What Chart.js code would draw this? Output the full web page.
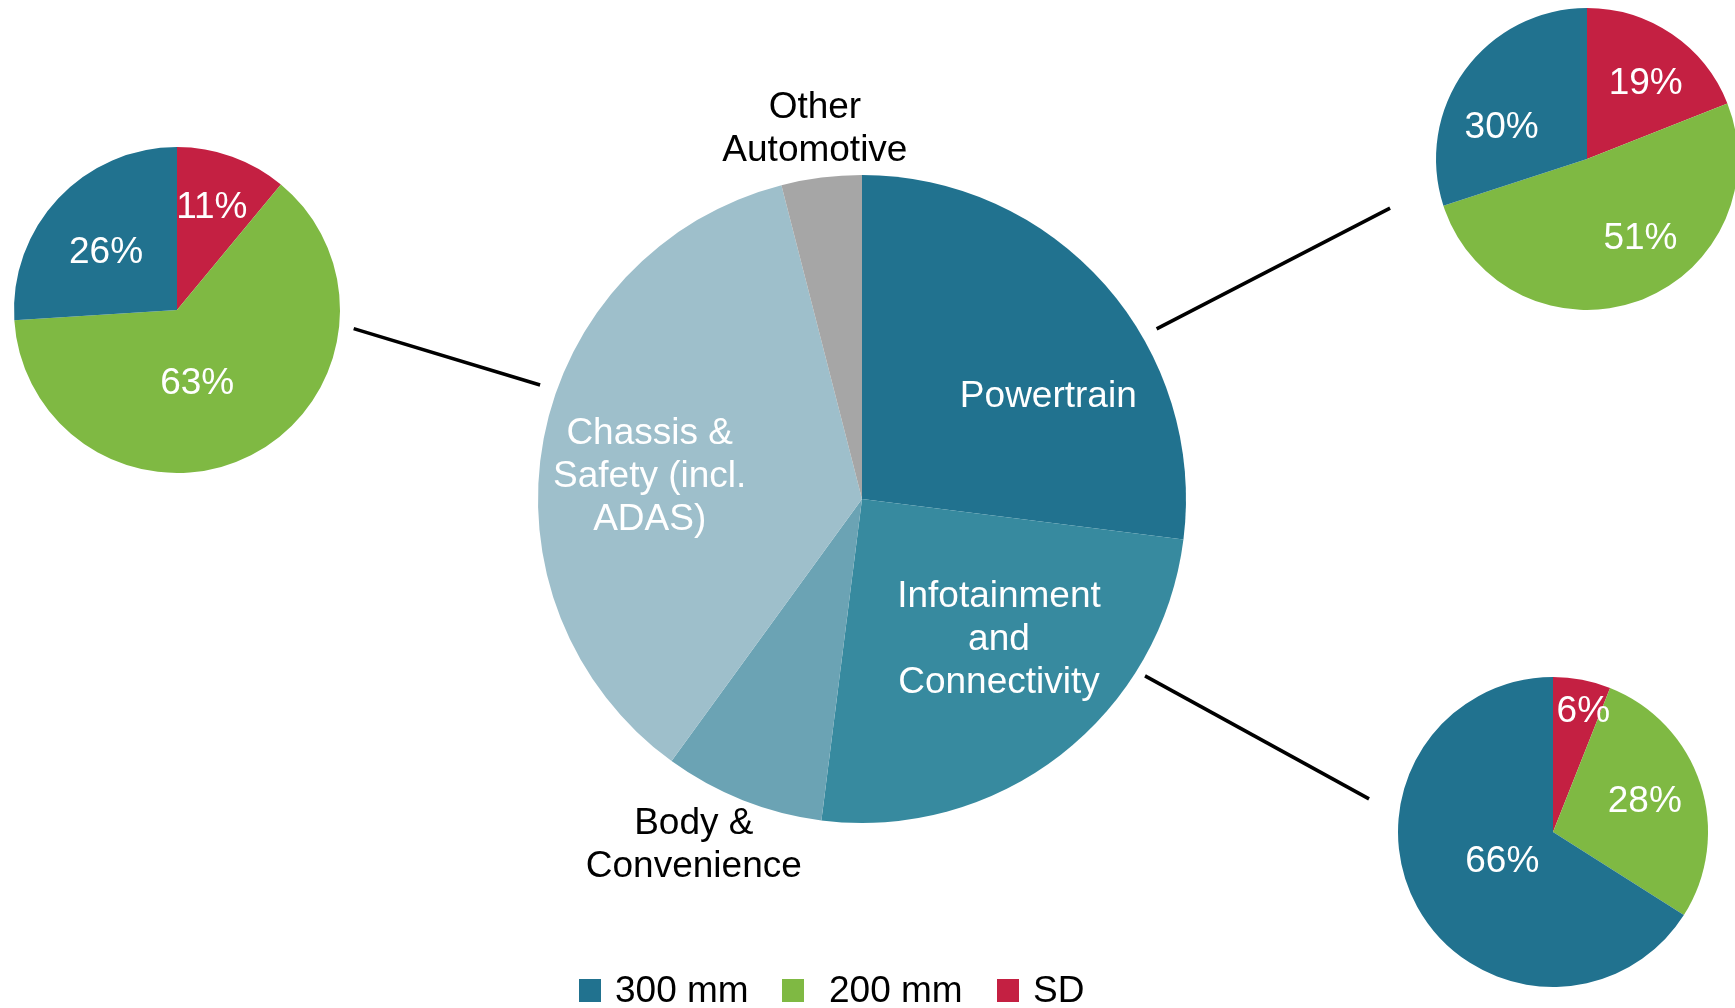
<!DOCTYPE html>
<html>
<head>
<meta charset="utf-8">
<title>Automotive semiconductor demand by wafer size</title>
<script src="https://cdn.jsdelivr.net/npm/chart.js@4.4.1/dist/chart.umd.min.js"></script>
<style>
  html, body { margin: 0; padding: 0; width: 1735px; height: 1008px; overflow: hidden; background: #fff; }
  body { position: relative; font-family: "Liberation Sans", Arial, sans-serif; }
  canvas.layer { position: absolute; left: 0; top: 0; }
  .legend-item { position: absolute; top: 968px; height: 43px; line-height: 43px; font-size: 37px; color: #000; white-space: nowrap; }
  .legend-box { position: absolute; top: 979px; width: 22px; height: 23px; }
</style>
</head>
<body>
<canvas class="layer" id="chassisPie"></canvas>
<canvas class="layer" id="powertrainPie"></canvas>
<canvas class="layer" id="infotainmentPie"></canvas>
<canvas class="layer" id="mainPie"></canvas>
<div id="legend"></div>

<script>
// segment shares of the big pie, clockwise from 12 o'clock
const mainCategories = ["Powertrain", "Infotainment and Connectivity", "Body & Convenience", "Chassis & Safety (incl. ADAS)", "Other Automotive"];
const mainLabelLines = [["Powertrain"], ["Infotainment", "and", "Connectivity"], ["Body &", "Convenience"], ["Chassis &", "Safety (incl.", "ADAS)"], ["Other", "Automotive"]];
const mainShares = [27, 25, 8, 36, 4];

// wafer size split inside each segment, clockwise from 12 o'clock
const waferSizes = ["SD", "200 mm", "300 mm"];
const chassisMix = [11, 63, 26];
const powertrainMix = [19, 51, 30];
const infotainmentMix = [6, 28, 66];
const legendOrder = ["300 mm", "200 mm", "SD"];

const mainColors = ["#21728F", "#378A9F", "#6BA3B4", "#9EBFCB", "#A6A6A6"];
const sizeColors = { "SD": "#C42042", "200 mm": "#7FB943", "300 mm": "#21728F" };

const W = 1760, H = 1008;
const FONT = '37px "Liberation Sans", Arial, sans-serif';
const LINE_H = 43;
const TEXT_DY = 3; // glyphs sit a bit low in the original

// chart area placed so the pie sits at (cx, cy) with radius r
function padFor(cx, cy, r) {
  return { left: cx - r, top: cy - r, right: W - cx - r, bottom: H - cy - r };
}

function polar(arc, deg, f) {
  const a = deg * Math.PI / 180;
  return { x: arc.x + Math.sin(a) * arc.outerRadius * f, y: arc.y - Math.cos(a) * arc.outerRadius * f };
}

const sliceLabels = {
  id: "sliceLabels",
  afterDatasetsDraw(chart, args, opts) {
    const meta = chart.getDatasetMeta(0);
    const ctx = chart.ctx;
    ctx.save();
    ctx.font = FONT;
    ctx.textAlign = "center";
    ctx.textBaseline = "middle";
    meta.data.forEach((arc, i) => {
      const [frac, shift, color] = opts.place[i];
      const mid = (arc.startAngle + arc.endAngle) / 2 + shift * Math.PI / 180;
      const d = arc.outerRadius * frac;
      const x = arc.x + Math.cos(mid) * d;
      const y = arc.y + Math.sin(mid) * d + TEXT_DY;
      const lines = opts.text(chart, i);
      ctx.fillStyle = color;
      lines.forEach((t, k) => {
        ctx.fillText(t, x, y + (k - (lines.length - 1) / 2) * LINE_H);
      });
    });
    ctx.restore();
  }
};

const connectors = {
  id: "connectors",
  afterDraw(chart, args, opts) {
    const main = chart.getDatasetMeta(0).data[0];
    const ctx = chart.ctx;
    ctx.save();
    ctx.strokeStyle = "#000";
    ctx.lineWidth = 3.5;
    opts.links.forEach(l => {
      const other = l.chart.getDatasetMeta(0).data[0];
      const p1 = polar(main, l.from[0], l.from[1]);
      const p2 = polar(other, l.to[0], l.to[1]);
      ctx.beginPath();
      ctx.moveTo(p1.x, p1.y);
      ctx.lineTo(p2.x, p2.y);
      ctx.stroke();
    });
    ctx.restore();
  }
};

function setupCanvas(id) {
  const c = document.getElementById(id);
  c.width = W;
  c.height = H;
  c.style.width = W + "px";
  c.style.height = H + "px";
  return c;
}

function pctText(chart, i) {
  return [chart.data.datasets[0].data[i] + "%"];
}

function mixPie(id, values, pos, place) {
  return new Chart(setupCanvas(id), {
    type: "pie",
    data: {
      labels: waferSizes,
      datasets: [{
        data: values,
        backgroundColor: waferSizes.map(s => sizeColors[s]),
        borderWidth: 0
      }]
    },
    options: {
      responsive: false,
      animation: false,
      events: [],
      layout: { padding: padFor(pos[0], pos[1], pos[2]) },
      plugins: {
        legend: { display: false },
        tooltip: { enabled: false },
        sliceLabels: { place: place, text: pctText }
      }
    },
    plugins: [sliceLabels]
  });
}

const chassisChart = mixPie("chassisPie", chassisMix, [177, 310, 163],
  [[0.68, -1.5, "#fff"], [0.45, 11, "#fff"], [0.57, -3, "#fff"]]);
const powertrainChart = mixPie("powertrainPie", powertrainMix, [1587, 159, 151],
  [[0.65, 2.5, "#fff"], [0.62, -15, "#fff"], [0.61, -14, "#fff"]]);
const infotainmentChart = mixPie("infotainmentPie", infotainmentMix, [1553, 832, 155],
  [[0.82, 3, "#fff"], [0.63, -2, "#fff"], [0.37, 1, "#fff"]]);

new Chart(setupCanvas("mainPie"), {
  type: "pie",
  data: {
    labels: mainCategories,
    datasets: [{
      data: mainShares,
      backgroundColor: mainColors,
      borderWidth: 0
    }]
  },
  options: {
    responsive: false,
    animation: false,
    events: [],
    layout: { padding: padFor(862, 499, 324) },
    plugins: {
      legend: { display: false },
      tooltip: { enabled: false },
      sliceLabels: {
        place: [[0.66, 12, "#fff"], [0.6, -7, "#fff"], [1.18, 4.5, "#000"], [0.66, -4, "#fff"], [1.16, 0, "#000"]],
        text: (chart, i) => mainLabelLines[i]
      },
      connectors: {
        links: [
          { chart: chassisChart, from: [289.5, 1.054], to: [96, 1.09] },
          { chart: powertrainChart, from: [60, 1.05], to: [256, 1.344] },
          { chart: infotainmentChart, from: [122, 1.03], to: [280.2, 1.206] }
        ]
      }
    }
  },
  plugins: [sliceLabels, connectors]
});

// legend
const legend = document.getElementById("legend");
const legendBoxX = [579, 782, 997];
const legendTextX = [615, 829, 1033];
legendOrder.forEach((name, i) => {
  const box = document.createElement("div");
  box.className = "legend-box";
  box.style.left = legendBoxX[i] + "px";
  box.style.background = sizeColors[name];
  legend.appendChild(box);
  const txt = document.createElement("div");
  txt.className = "legend-item";
  txt.style.left = legendTextX[i] + "px";
  txt.textContent = name;
  legend.appendChild(txt);
});
</script>
</body>
</html>
